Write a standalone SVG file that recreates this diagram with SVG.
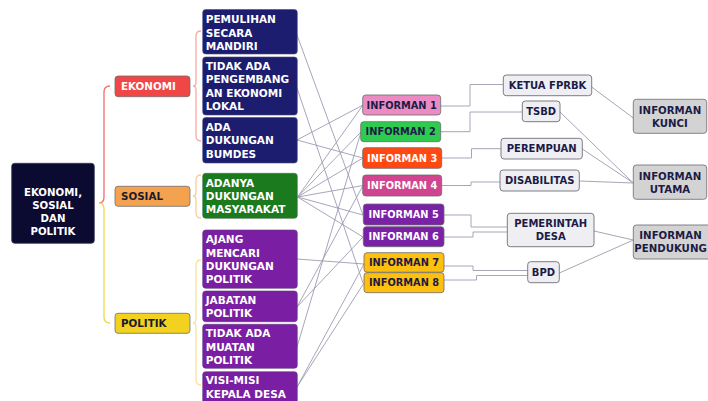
<svg xmlns="http://www.w3.org/2000/svg" width="708" height="401" viewBox="0 0 708 401">
<style>
text{font-family:"DejaVu Sans","Open Sans",sans-serif;font-weight:bold;}
.leaf text{font-size:10.5px;fill:#fff;}
.cat text{font-size:10.3px;}
.inf text{font-size:9.8px;text-anchor:middle;}
.grp text{font-size:10px;text-anchor:middle;fill:#1b1b45;}
.fin text{font-size:10.2px;text-anchor:middle;fill:#1b1b45;}
.lk{fill:none;stroke:#9c9cb2;stroke-width:0.9;}
.rk{fill:none;stroke:#a6a6b6;stroke-width:1;}
.br{fill:none;stroke-width:1.3;}
</style>
<rect width="708" height="401" fill="#fff"/>

<g id="brackets">
<path class="br" stroke="#f36a6a" d="M110,86 Q104,86 104,92 V197 Q104,203 99,203"/>
<path class="br" stroke="#f5d64a" d="M99,203 Q104,203 104,209 V317 Q104,323 110,323"/>
<path class="br" stroke="#f7a8a8" stroke-width="1" d="M201,31 Q196,31 196,36 V82 Q196,86 193,86 Q196,86 196,90 V136 Q196,141 201,141"/>
<path class="br" stroke="#f9cc9c" stroke-width="1" d="M201,175 Q196,175 196,180 V192 Q196,196 193,196 Q196,196 196,200 V213 Q196,218 201,218"/>
<path class="br" stroke="#f7e39a" stroke-width="1" d="M201,260 Q196,260 196,265 V318 Q196,323 193,323 Q196,323 196,328 V380 Q196,385 201,385"/>
</g>

<g id="connectors">
<path class="lk" d="M297,35 L363,215"/>
<path class="lk" d="M297,88 L363,283"/>
<path class="lk" d="M297,140 L363,105"/>
<path class="lk" d="M297,140 L363,158"/>
<path class="lk" d="M297.5,197 L363,105"/>
<path class="lk" d="M297.5,197 L361,132"/>
<path class="lk" d="M297.5,197 L363,158"/>
<path class="lk" d="M297.5,197 L363,185.5"/>
<path class="lk" d="M297.5,197 L363,215"/>
<path class="lk" d="M297.5,197 L363,237"/>
<path class="lk" d="M297,259 L364,264"/>
<path class="lk" d="M297,307 L363,185.5"/>
<path class="lk" d="M297,307 L363,237"/>
<path class="lk" d="M297,347 L361,132"/>
<path class="lk" d="M297,387 L364,264"/>
<path class="lk" d="M297,387 L364,283"/>

<path class="rk" d="M440.7,106 H470 V84.5 H503.3"/>
<path class="rk" d="M440.7,131.7 H470 V112 H522.3"/>
<path class="rk" d="M441.7,158 H471.5 V148.7 H501"/>
<path class="rk" d="M441.7,185.5 H471 V182 H500"/>
<path class="rk" d="M444,215 H471 V227 H507.3"/>
<path class="rk" d="M444,237 H473 V232 H507.3"/>
<path class="rk" d="M444,266 H473 V270.5 H527.7"/>
<path class="rk" d="M444,280 H476.5 V275.5 H527.7"/>

<path class="rk" d="M591.7,87 L633.3,118"/>
<path class="rk" d="M560,112 L633.3,183"/>
<path class="rk" d="M582.3,149 L633.3,183"/>
<path class="rk" d="M579.3,181 L633.3,183"/>
<path class="rk" d="M594,231 L633.3,240"/>
<path class="rk" d="M559.3,273 L633.3,240"/>
</g>

<g id="root">
<rect x="11.7" y="163.3" width="82.6" height="80" rx="3" fill="#0b0a30" stroke="#3a3a55" stroke-width="0.8"/>
<text x="53" y="195.5" font-size="10.2" fill="#fff" text-anchor="middle">EKONOMI,</text>
<text x="53" y="208.8" font-size="10.2" fill="#fff" text-anchor="middle">SOSIAL</text>
<text x="53" y="222.1" font-size="10.2" fill="#fff" text-anchor="middle">DAN</text>
<text x="53" y="235.4" font-size="10.2" fill="#fff" text-anchor="middle">POLITIK</text>
</g>

<g id="cat-ekonomi" class="cat">
<rect x="115" y="76" width="75" height="20.7" rx="3" fill="#f04646" stroke="#6e6e6e" stroke-width="0.8"/>
<text x="121" y="90" fill="#fff">EKONOMI</text>
</g>
<g id="cat-sosial" class="cat">
<rect x="115" y="186.3" width="75" height="20" rx="3" fill="#f5a24f" stroke="#6e6e6e" stroke-width="0.8"/>
<text x="121" y="200.2" fill="#1b1b30">SOSIAL</text>
</g>
<g id="cat-politik" class="cat">
<rect x="115" y="313.3" width="75" height="20" rx="3" fill="#f2d21e" stroke="#6e6e6e" stroke-width="0.8"/>
<text x="121" y="327.2" fill="#1b1b30">POLITIK</text>
</g>

<g id="leaf-pemulihan" class="leaf">
<rect x="202.7" y="9.5" width="94.6" height="44.5" rx="3" fill="#1d1d70" stroke="#4a4a7a" stroke-width="0.6"/>
<text x="205.7" y="23">PEMULIHAN</text>
<text x="205.7" y="36.5">SECARA</text>
<text x="205.7" y="50">MANDIRI</text>
</g>
<g id="leaf-tidakada" class="leaf">
<rect x="202.7" y="57" width="94.6" height="58" rx="3" fill="#1d1d70" stroke="#4a4a7a" stroke-width="0.6"/>
<text x="205.7" y="69.7">TIDAK ADA</text>
<text x="205.7" y="83.2">PENGEMBANG</text>
<text x="205.7" y="96.7">AN EKONOMI</text>
<text x="205.7" y="110.2">LOKAL</text>
</g>
<g id="leaf-bumdes" class="leaf">
<rect x="202.7" y="117.5" width="94.6" height="45.5" rx="3" fill="#1d1d70" stroke="#4a4a7a" stroke-width="0.6"/>
<text x="205.7" y="130.7">ADA</text>
<text x="205.7" y="144.2">DUKUNGAN</text>
<text x="205.7" y="157.5">BUMDES</text>
</g>
<g id="leaf-masyarakat" class="leaf">
<rect x="202.7" y="173.3" width="94.6" height="45" rx="3" fill="#1c7a1e" stroke="#3f6f3f" stroke-width="0.6"/>
<text x="205.7" y="186.7">ADANYA</text>
<text x="205.7" y="200">DUKUNGAN</text>
<text x="205.7" y="213.3">MASYARAKAT</text>
</g>
<g id="leaf-ajang" class="leaf">
<rect x="202.7" y="230" width="94.6" height="58.3" rx="3" fill="#7a1fa3" stroke="#5a3a75" stroke-width="0.6"/>
<text x="205.7" y="243.3">AJANG</text>
<text x="205.7" y="256.7">MENCARI</text>
<text x="205.7" y="270">DUKUNGAN</text>
<text x="205.7" y="283.3">POLITIK</text>
</g>
<g id="leaf-jabatan" class="leaf">
<rect x="202.7" y="291" width="94.6" height="30.7" rx="3" fill="#7a1fa3" stroke="#5a3a75" stroke-width="0.6"/>
<text x="205.7" y="304">JABATAN</text>
<text x="205.7" y="317.3">POLITIK</text>
</g>
<g id="leaf-muatan" class="leaf">
<rect x="202.7" y="324.3" width="94.6" height="44" rx="3" fill="#7a1fa3" stroke="#5a3a75" stroke-width="0.6"/>
<text x="205.7" y="337.3">TIDAK ADA</text>
<text x="205.7" y="350.7">MUATAN</text>
<text x="205.7" y="364">POLITIK</text>
</g>
<g id="leaf-visimisi" class="leaf">
<rect x="202.7" y="371.7" width="94.6" height="40" rx="3" fill="#7a1fa3" stroke="#5a3a75" stroke-width="0.6"/>
<text x="205.7" y="384">VISI-MISI</text>
<text x="205.7" y="398">KEPALA DESA</text>
</g>

<g id="inf1" class="inf">
<rect x="362.7" y="95" width="78" height="20" rx="3" fill="#ea8cc3" stroke="#6b6b6b" stroke-width="0.8"/>
<text x="401.7" y="108.6" fill="#1b1b45">INFORMAN 1</text>
</g>
<g id="inf2" class="inf">
<rect x="360.7" y="121.7" width="80" height="20" rx="3" fill="#2ecb50" stroke="#6b6b6b" stroke-width="0.8"/>
<text x="400.7" y="135.3" fill="#1b1b45">INFORMAN 2</text>
</g>
<g id="inf3" class="inf">
<rect x="362.7" y="147.7" width="79" height="20.6" rx="3" fill="#ff4812" stroke="#6b6b6b" stroke-width="0.8"/>
<text x="402.2" y="161.6" fill="#fff">INFORMAN 3</text>
</g>
<g id="inf4" class="inf">
<rect x="362.7" y="175" width="79" height="21" rx="3" fill="#d04490" stroke="#6b6b6b" stroke-width="0.8"/>
<text x="402.2" y="189.1" fill="#fff">INFORMAN 4</text>
</g>
<g id="inf5" class="inf">
<rect x="363.3" y="204" width="80.7" height="21" rx="3" fill="#7a22a6" stroke="#6b6b6b" stroke-width="0.8"/>
<text x="403.7" y="218.1" fill="#fff">INFORMAN 5</text>
</g>
<g id="inf6" class="inf">
<rect x="363.3" y="226.7" width="80.7" height="20" rx="3" fill="#7a22a6" stroke="#6b6b6b" stroke-width="0.8"/>
<text x="403.7" y="240.3" fill="#fff">INFORMAN 6</text>
</g>
<g id="inf7" class="inf">
<rect x="364" y="252.7" width="80" height="19.5" rx="3" fill="#fdbf10" stroke="#6b6b6b" stroke-width="0.8"/>
<text x="404" y="266" fill="#1b1b45">INFORMAN 7</text>
</g>
<g id="inf8" class="inf">
<rect x="364" y="272.7" width="80" height="20" rx="3" fill="#fdbf10" stroke="#6b6b6b" stroke-width="0.8"/>
<text x="404" y="286.3" fill="#1b1b45">INFORMAN 8</text>
</g>

<g id="ketua" class="grp">
<rect x="503.3" y="75" width="88.4" height="20.7" rx="3" fill="#eeeef3" stroke="#6e6e78" stroke-width="0.9"/>
<text x="547.5" y="89">KETUA FPRBK</text>
</g>
<g id="tsbd" class="grp">
<rect x="522.3" y="101" width="37.7" height="20.7" rx="3" fill="#eeeef3" stroke="#6e6e78" stroke-width="0.9"/>
<text x="541.2" y="115">TSBD</text>
</g>
<g id="perempuan" class="grp">
<rect x="501" y="138.3" width="81.3" height="20.7" rx="3" fill="#eeeef3" stroke="#6e6e78" stroke-width="0.9"/>
<text x="541.7" y="152.3">PEREMPUAN</text>
</g>
<g id="disabilitas" class="grp">
<rect x="500" y="170" width="79.3" height="21" rx="3" fill="#eeeef3" stroke="#6e6e78" stroke-width="0.9"/>
<text x="539.7" y="184.1">DISABILITAS</text>
</g>
<g id="pemdes" class="grp">
<rect x="507.3" y="213.3" width="86.7" height="33.4" rx="3" fill="#eeeef3" stroke="#6e6e78" stroke-width="0.9"/>
<text x="550.7" y="227">PEMERINTAH</text>
<text x="550.7" y="240.4">DESA</text>
</g>
<g id="bpd" class="grp">
<rect x="527.7" y="261.7" width="31.6" height="21" rx="3" fill="#eeeef3" stroke="#6e6e78" stroke-width="0.9"/>
<text x="543.5" y="275.8">BPD</text>
</g>

<g id="kunci" class="fin">
<rect x="633.3" y="99.3" width="73.4" height="34" rx="3" fill="#d3d3d3" stroke="#77777f" stroke-width="0.9"/>
<text x="670" y="113.7">INFORMAN</text>
<text x="670" y="127">KUNCI</text>
</g>
<g id="utama" class="fin">
<rect x="633.3" y="165" width="73.4" height="34.3" rx="3" fill="#d3d3d3" stroke="#77777f" stroke-width="0.9"/>
<text x="670" y="179.7">INFORMAN</text>
<text x="670" y="193">UTAMA</text>
</g>
<g id="pendukung" class="fin">
<rect x="633.3" y="225" width="80" height="34" rx="3" fill="#d3d3d3" stroke="#77777f" stroke-width="0.9"/>
<text x="670.5" y="238.7">INFORMAN</text>
<text x="670.5" y="252" font-size="9.8">PENDUKUNG</text>
</g>
</svg>
